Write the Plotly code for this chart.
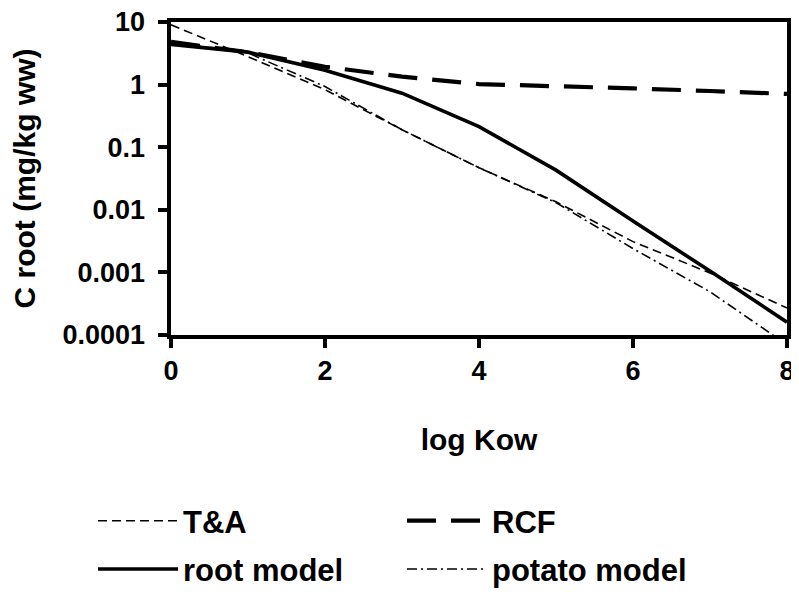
import plotly.graph_objects as go

log_kow = [0, 1, 2, 3, 4, 5, 6, 7, 8]
ta_vals = [9.0, 2.8, 0.83, 0.19, 0.047, 0.0134, 0.0031, 0.00098, 0.00027]
rcf_vals = [4.8, 3.3, 1.93, 1.34, 1.02, 0.95, 0.87, 0.79, 0.71]
root_vals = [4.4, 3.3, 1.7, 0.73, 0.213, 0.043, 0.0066, 0.00105, 0.00016]
potato_vals = [4.8, 3.2, 0.93, 0.19, 0.047, 0.013, 0.0024, 0.00049, 0.00007]

y_tickvals = [10, 1, 0.1, 0.01, 0.001, 0.0001]
y_ticktext = ["10", "1", "0.1", "0.01", "0.001", "0.0001"]
x_tickvals = [0, 2, 4, 6, 8]

FONT = "Liberation Sans, Arial, sans-serif"

fig = go.Figure()
fig.add_trace(go.Scatter(x=log_kow, y=ta_vals, mode="lines", name="T&A",
                         legend="legend", legendgroup="a",
                         line=dict(color="black", width=1.6, dash="9px,5px")))
fig.add_trace(go.Scatter(x=log_kow, y=rcf_vals, mode="lines", name="RCF",
                         legend="legend2", legendgroup="b",
                         line=dict(color="black", width=4.2, dash="29px,15px")))
fig.add_trace(go.Scatter(x=log_kow, y=root_vals, mode="lines", name="root model",
                         legend="legend", legendgroup="c",
                         line=dict(color="black", width=3.6)))
fig.add_trace(go.Scatter(x=log_kow, y=potato_vals, mode="lines", name="potato model",
                         legend="legend2", legendgroup="d",
                         line=dict(color="black", width=1.6, dash="10px,4px,2px,4px")))

legend_common = dict(
    orientation="v",
    xref="paper", yref="container",
    xanchor="left", yanchor="top",
    y=0.179,
    itemwidth=80,
    tracegroupgap=5,
    traceorder="grouped",
    font=dict(family=FONT, size=31, color="black", weight="bold"),
    bgcolor="rgba(0,0,0,0)",
)

fig.update_layout(
    width=799, height=592,
    margin=dict(l=163, r=20, t=14, b=265),
    paper_bgcolor="white", plot_bgcolor="white",
    font=dict(family=FONT, size=27, color="black"),
    showlegend=True,
    legend=dict(legend_common, x=-0.1266),
    legend2=dict(legend_common, x=0.375),
    xaxis=dict(
        range=[0, 8], tickvals=x_tickvals,
        showgrid=False, zeroline=False, automargin="bottom",
        ticklabeloverflow="allow",
        showline=True, linecolor="black", linewidth=4, mirror=True,
        ticks="outside", ticklen=9, tickwidth=4, tickcolor="black",
        tickfont=dict(family=FONT, size=27, weight="bold"),
        title=dict(text="log Kow", font=dict(family=FONT, size=30, weight="bold"), standoff=45),
    ),
    yaxis=dict(
        type="log", range=[-4, 1],
        tickvals=y_tickvals, ticktext=[t + "\u00a0" for t in y_ticktext],
        showgrid=False, zeroline=False, automargin="left",
        ticklabeloverflow="allow",
        showline=True, linecolor="black", linewidth=4, mirror=True,
        ticks="outside", ticklen=9, tickwidth=4, tickcolor="black",
        tickfont=dict(family=FONT, size=27, weight="bold"),
        title=dict(text="C root (mg/kg ww)", font=dict(family=FONT, size=30, weight="bold"), standoff=21),
    ),
)

fig.write_html("out.html")
